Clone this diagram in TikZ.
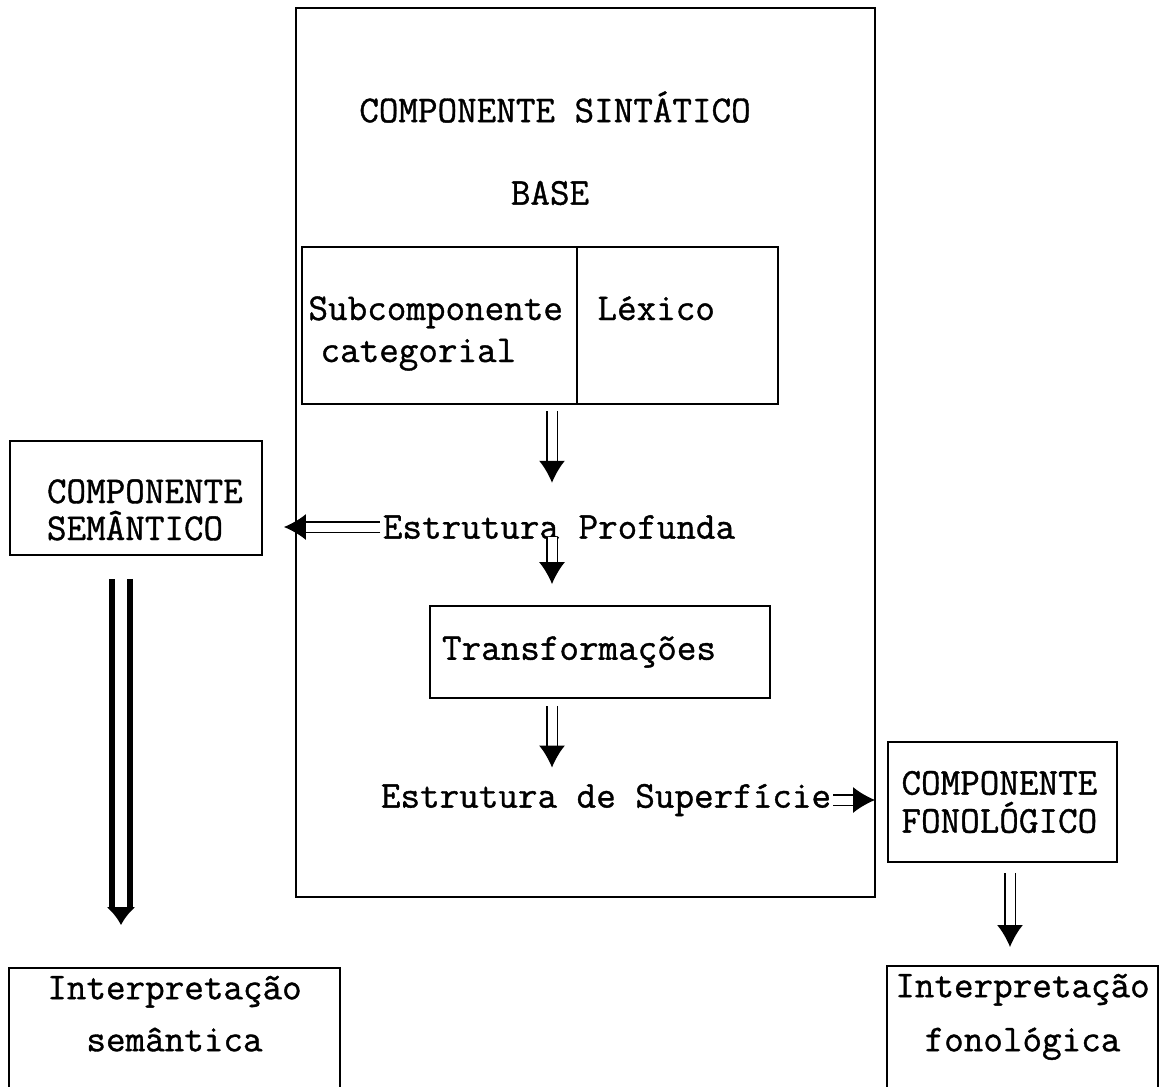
\documentclass[tikz,border=0pt]{standalone}
\usepackage{fontspec}
\setmonofont[FakeBold=1]{Latin Modern Mono}
\usepackage{tikz}
\usetikzlibrary{arrows.meta}
\tikzset{txt/.style={font=\ttfamily\fontsize{19}{#1}\selectfont, inner sep=1pt},
  txt/.default=20pt,
  box/.style={draw, line width=0.9pt},
  dbl/.style={double, double distance=4.5pt, line width=0.8pt, -{Latex[length=11pt,width=13pt]}},
  dblthick/.style={double, double distance=6pt, line width=2.8pt, -{Latex[length=9pt,width=15pt]}}}
\begin{document}
\begin{tikzpicture}[x=0.5pt, y=-0.5pt]
\useasboundingbox (0,0) rectangle (1168,1087);
\clip (0,0) rectangle (1168,1087);
% syntactic component
\node(main) [box, minimum width=289.5pt, minimum height=444.5pt] at (585.5,452.5) {};
\node(title) [txt] at (555,107) {COMPONENTE SINTÁTICO};
\node(base) [txt] at (550,193) {BASE};
\node(sub) [box, txt=21pt, minimum width=137.5pt, minimum height=78.5pt, text width=131pt, align=left, text height=12pt, text depth=17.5pt] at (439.5,325.5) {Subcomponente\\\hspace*{6pt}categorial};
\node(lex) [box, txt, minimum width=100.5pt, minimum height=78.5pt, text width=80pt, align=left, text height=12pt, text depth=17.5pt] at (677.5,325.5) {Léxico};
\node(ep) [txt] at (559,527) {Estrutura Profunda};
\node(tr) [box, txt, minimum width=170pt, minimum height=46pt, text width=158pt, align=left] at (600,652) {Transformações};
\node(es) [txt] at (606,800) {Estrutura de Superfície};
% side components
\node(sem) [box, txt=18.5pt, minimum width=126pt, minimum height=57pt, text width=89pt, align=left, text height=12pt, text depth=7pt] at (136,498) {COMPONENTE\\SEMÂNTICO};
\node(fon) [box, txt=19pt, minimum width=114.5pt, minimum height=60pt, text width=101pt, align=left] at (1002.5,802) {COMPONENTE\\FONOLÓGICO};
\node(isem) [box, txt=26pt, anchor=north, minimum width=165.5pt, text width=150pt, align=center, inner ysep=4pt, text depth=120pt] at (174.5,967) {Interpretação\\semântica};
\node(ifon) [box, txt=27pt, anchor=north, minimum width=135.5pt, text width=130pt, align=center, inner ysep=4pt, text depth=120pt] at (1022.5,965) {Interpretação\\fonológica};
% arrows
\coordinate(col) at (552,0);
\coordinate(fcol) at (1010,0);
\coordinate(tcol) at (121,0);
\draw[dbl, shorten <=3pt, shorten >=15pt] (sub.south -| col) to (ep.north -| col);
\draw[dbl, shorten <=-2pt, shorten >=10.5pt] (ep.south -| col) to (tr.north -| col);
\draw[dbl, shorten <=3.5pt, shorten >=7pt] (tr.south -| col) to (es.north -| col);
\draw[dbl, shorten >=10.5pt] (ep.west) to (ep.west -| sem.east);
\draw[dbl, shorten >=6pt] (es.east) to (es.east -| fon.west);
\draw[dbl, shorten <=5pt, shorten >=9pt] (fon.south -| fcol) to (ifon.north -| fcol);
\draw[dblthick, shorten <=11.5pt, shorten >=21pt] (sem.south -| tcol) to (isem.north -| tcol);
\end{tikzpicture}
\end{document}
